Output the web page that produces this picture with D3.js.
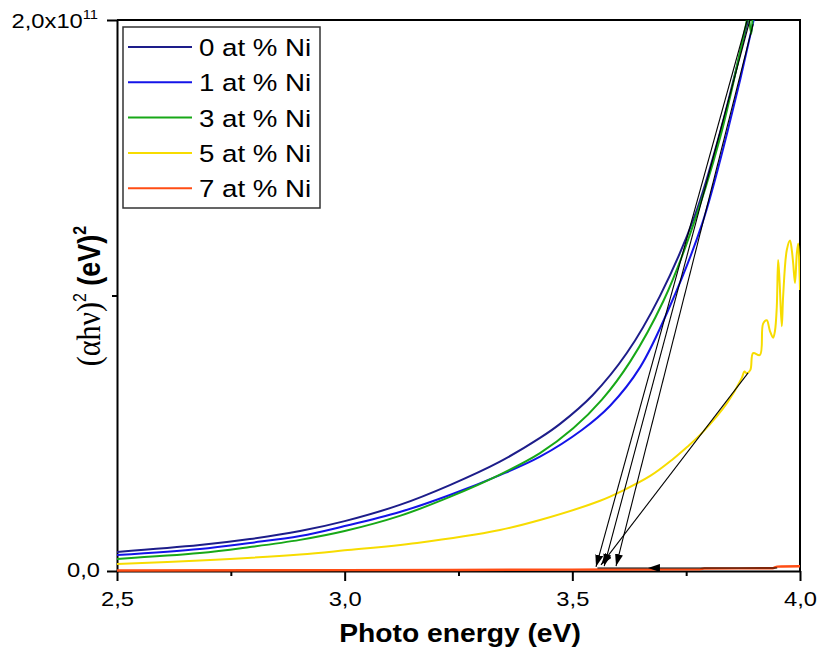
<!DOCTYPE html>
<html>
<head>
<meta charset="utf-8">
<script src="https://cdn.jsdelivr.net/npm/d3@7"></script>
<style>
  body { margin: 0; background: #fff; }
  svg { display: block; }
</style>
</head>
<body>
<script>
// Tauc plot of Ni-doped films: (αhν)² versus photon energy.
// Values of (αhν)² are given in units of 1e10 eV².
const seriesLabels = ["0 at % Ni", "1 at % Ni", "3 at % Ni", "5 at % Ni", "7 at % Ni"];

const energyNi0 = [2.5, 2.682, 2.792, 2.902, 3.0, 3.121, 3.231, 3.341, 3.429, 3.473, 3.545, 3.620, 3.692, 3.769, 3.824, 3.886, 3.9];
const valueNi0  = [0.69, 0.94, 1.16, 1.45, 1.81, 2.40, 3.12, 3.97, 4.83, 5.34, 6.39, 7.92, 9.97, 12.9, 15.9, 20.0, 21.0];

const energyNi1 = [2.5, 2.682, 2.792, 2.902, 3.0, 3.121, 3.231, 3.341, 3.429, 3.521, 3.583, 3.649, 3.714, 3.785, 3.840, 3.895, 3.91];
const valueNi1  = [0.58, 0.80, 1.02, 1.27, 1.63, 2.14, 2.76, 3.48, 4.15, 5.12, 6.0, 7.4, 9.6, 12.6, 15.9, 19.75, 21.0];

const energyNi3 = [2.5, 2.682, 2.792, 2.902, 3.0, 3.121, 3.231, 3.341, 3.429, 3.502, 3.565, 3.627, 3.70, 3.758, 3.824, 3.881, 3.886, 3.893, 3.898, 3.905];
const valueNi3  = [0.44, 0.65, 0.87, 1.13, 1.45, 2.0, 2.69, 3.50, 4.28, 5.18, 6.22, 7.6, 9.8, 12.2, 15.7, 19.8, 20.2, 19.5, 20.5, 21.0];

const energyNi5 = [2.5, 2.682, 2.902, 3.0, 3.159, 3.341, 3.429, 3.561, 3.611, 3.671, 3.720, 3.752, 3.787, 3.840, 3.872,
  3.878, 3.883, 3.891, 3.897, 3.912, 3.919, 3.927, 3.934, 3.941, 3.945, 3.949, 3.952, 3.955, 3.960, 3.963,
  3.971, 3.978, 3.982, 3.985, 3.989, 3.993, 3.996, 3.999, 4.0];
const valueNi5  = [0.25, 0.38, 0.60, 0.75, 1.02, 1.49, 1.85, 2.55, 2.92, 3.45, 4.05, 4.5, 5.05, 6.1, 7.0,
  7.24, 7.18, 7.30, 7.91, 7.84, 8.98, 9.10, 8.71, 8.47, 8.71, 9.58, 11.29, 10.56, 8.88, 9.98,
  11.65, 12.0, 11.65, 11.17, 10.45, 11.53, 11.89, 10.8, 10.2];

const energyNi7 = [2.5, 3.0, 3.5, 3.78, 3.79, 3.94, 3.95, 4.0];
const valueNi7  = [0.02, 0.03, 0.05, 0.06, 0.09, 0.10, 0.16, 0.17];

// Linear extrapolations of the absorption edges down to the energy axis
const tangentFrom = [[3.884, 20.0], [3.890, 20.0], [3.897, 19.85], [3.886, 7.19], [3.950, 0.11]];
const tangentTo   = [[3.552, 0.15], [3.570, 0.18], [3.596, 0.18], [3.563, 0.22], [3.666, 0.11]];
const baselineFrom = [3.666, 0.11];
const baselineTo   = [3.555, 0.11];

const xTickValues = [2.5, 3.0, 3.5, 4.0];
const xMinorValues = [2.75, 3.25, 3.75];
const yTickValues = [0, 2e11];
const yMinorValues = [1e11];
const yTickLabels = ["0,0", "2,0x10"];

const colors = ["#1d1d8a", "#1414e8", "#17a817", "#f7dc00", "#ff4d14"];
const widths = [2, 2, 2, 2, 2.4];
const UNIT = 1e10;
const STRETCH = 1.13;

const W = 819, H = 653;
const mLeft = 117, mRight = 800, mTop = 20, mBottom = 571;

const svg = d3.select("body").append("svg").attr("width", W).attr("height", H)
  .style("font-family", "'Liberation Sans', Arial, sans-serif");

const x = d3.scaleLinear().domain([2.5, 4.0]).range([mLeft, mRight]);
const y = d3.scaleLinear().domain([0, 2e11]).range([mBottom, mTop]);

const defs = svg.append("defs");
defs.append("clipPath").attr("id", "plot")
  .append("rect").attr("x", mLeft).attr("y", mTop).attr("width", mRight - mLeft).attr("height", mBottom - mTop + 3);

const arrow = defs.append("marker")
  .attr("id", "head").attr("markerUnits", "userSpaceOnUse")
  .attr("viewBox", "0 0 12 8").attr("refX", 12).attr("refY", 4)
  .attr("markerWidth", 12).attr("markerHeight", 8).attr("orient", "auto");
arrow.append("path").attr("d", "M0,0 L12,4 L0,8 Z").attr("fill", "#000");

// frame: top and right
svg.append("path")
  .attr("d", `M${mLeft},${mTop}H${mRight}V${mBottom}`)
  .attr("fill", "none").attr("stroke", "#000").attr("stroke-width", 2);

// bottom axis
const xAxis = svg.append("g").attr("transform", `translate(0,${mBottom})`)
  .call(d3.axisBottom(x).tickValues(xTickValues).tickSize(10).tickSizeOuter(0).tickPadding(10)
    .tickFormat(d => d3.format(".1f")(d).replace(".", ",")));
xAxis.select(".domain").attr("stroke-width", 2);
xAxis.selectAll(".tick line").attr("stroke-width", 2);
xAxis.selectAll(".tick text")
  .attr("font-size", 21).attr("fill", "#000")
  .attr("font-family", "'Liberation Sans', Arial, sans-serif")
  .attr("transform", `scale(${STRETCH},1)`);
const xMinorAxis = svg.append("g").attr("transform", `translate(0,${mBottom})`)
  .call(d3.axisBottom(x).tickValues(xMinorValues).tickSize(5).tickFormat(""));
xMinorAxis.select(".domain").remove();
xMinorAxis.selectAll(".tick line").attr("stroke-width", 2);

// left axis
const yAxis = svg.append("g").attr("transform", `translate(${mLeft},0)`)
  .call(d3.axisLeft(y).tickValues(yTickValues).tickSize(10).tickSizeOuter(0).tickFormat(""));
yAxis.select(".domain").attr("stroke-width", 2);
yAxis.selectAll(".tick line").attr("stroke-width", 2);
const yMinorAxis = svg.append("g").attr("transform", `translate(${mLeft},0)`)
  .call(d3.axisLeft(y).tickValues(yMinorValues).tickSize(5).tickFormat(""));
yMinorAxis.select(".domain").remove();
yMinorAxis.selectAll(".tick line").attr("stroke-width", 2);

// data curves, drawn over the axis lines
const series = [
  [energyNi0, valueNi0], [energyNi1, valueNi1], [energyNi3, valueNi3],
  [energyNi5, valueNi5], [energyNi7, valueNi7]
];

const smoothLine = d3.line().x(d => x(d[0])).y(d => y(d[1] * UNIT)).curve(d3.curveCatmullRom.alpha(0.5));
const stepLine = d3.line().x(d => x(d[0])).y(d => y(d[1] * UNIT)).curve(d3.curveMonotoneX);

const plot = svg.append("g").attr("clip-path", "url(#plot)");
series.forEach((s, i) => {
  const pts = s[0].map((e, k) => [e, s[1][k]]);
  plot.append("path").datum(pts).attr("d", i === 4 ? stepLine : smoothLine)
    .attr("fill", "none").attr("stroke", colors[i]).attr("stroke-width", widths[i])
    .attr("stroke-linejoin", "round");
});

// extrapolation arrows
tangentFrom.forEach((p, i) => {
  const q = tangentTo[i];
  svg.append("line")
    .attr("x1", x(p[0])).attr("y1", y(p[1] * UNIT))
    .attr("x2", x(q[0])).attr("y2", y(q[1] * UNIT))
    .attr("stroke", "#000").attr("stroke-width", 1.1)
    .attr("marker-end", "url(#head)");
});
svg.append("line")
  .attr("x1", x(baselineFrom[0])).attr("y1", y(baselineFrom[1] * UNIT))
  .attr("x2", x(baselineTo[0])).attr("y2", y(baselineTo[1] * UNIT))
  .attr("stroke", "#000").attr("stroke-width", 1.1);

// y tick labels
svg.append("text").attr("transform", `translate(100,${y(0) + 6}) scale(${STRETCH},1)`)
  .attr("text-anchor", "end").attr("font-size", 21).text(yTickLabels[0]);
const topLabel = svg.append("text")
  .attr("transform", `translate(98,${y(2e11) + 8}) scale(${STRETCH},1)`)
  .attr("text-anchor", "end").attr("font-size", 21);
topLabel.append("tspan").text(yTickLabels[1]);
topLabel.append("tspan").attr("font-size", 13).attr("dy", -9).text("11");

// axis titles
svg.append("text")
  .attr("transform", `translate(460,642) scale(${STRETCH},1)`)
  .attr("text-anchor", "middle").attr("font-size", 25).attr("font-weight", "bold")
  .text("Photo energy (eV)");

const yTitle = svg.append("text")
  .attr("transform", `translate(100,296) scale(${STRETCH},1) rotate(-90)`)
  .attr("text-anchor", "middle").attr("font-size", 27);
yTitle.append("tspan").attr("font-family", "'Liberation Serif', 'Times New Roman', serif")
  .attr("font-size", 30).text("(αhν)");
yTitle.append("tspan").attr("font-size", 16).attr("dy", -12).text("2");
yTitle.append("tspan").attr("font-weight", "bold").attr("dy", 12).text(" (eV)");
yTitle.append("tspan").attr("font-weight", "bold").attr("font-size", 16).attr("dy", -12).text("2");

// legend
const legend = svg.append("g");
legend.append("rect").attr("x", 123).attr("y", 27).attr("width", 197).attr("height", 181)
  .attr("fill", "#fff").attr("stroke", "#333").attr("stroke-width", 1.5);
seriesLabels.forEach((name, i) => {
  const cy = 47 + i * 35.3;
  legend.append("line").attr("x1", 128).attr("x2", 192).attr("y1", cy).attr("y2", cy)
    .attr("stroke", colors[i]).attr("stroke-width", 2);
  legend.append("text").attr("transform", `translate(199,${cy + 9}) scale(${STRETCH},1)`)
    .attr("font-size", 24.5).text(name);
});
</script>
</body>
</html>
